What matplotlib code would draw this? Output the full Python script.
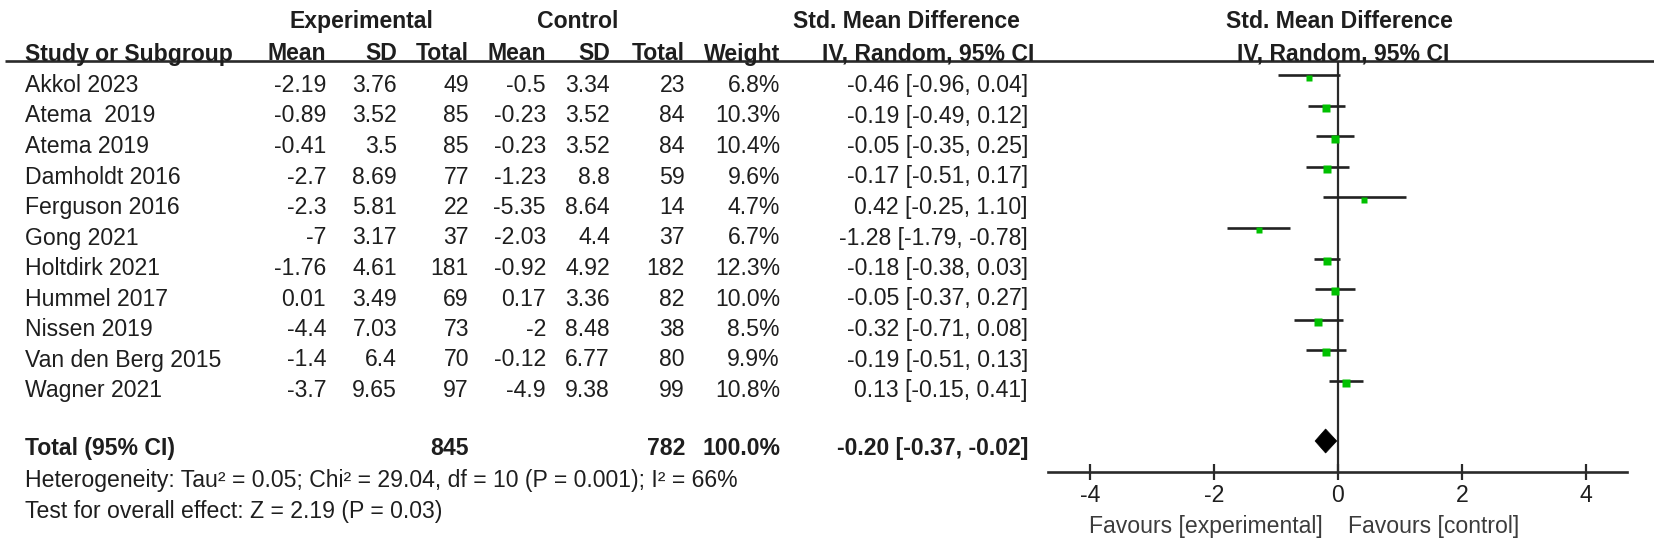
import matplotlib
matplotlib.use("Agg")
import matplotlib.pyplot as plt
from matplotlib.patches import Polygon

# ---------------- data ----------------
studies = ["Akkol 2023", "Atema  2019", "Atema 2019", "Damholdt 2016", "Ferguson 2016",
           "Gong 2021", "Holtdirk 2021", "Hummel 2017", "Nissen 2019",
           "Van den Berg 2015", "Wagner 2021"]
exp_mean = [-2.19, -0.89, -0.41, -2.7, -2.3, -7, -1.76, 0.01, -4.4, -1.4, -3.7]
exp_sd = [3.76, 3.52, 3.5, 8.69, 5.81, 3.17, 4.61, 3.49, 7.03, 6.4, 9.65]
exp_n = [49, 85, 85, 77, 22, 37, 181, 69, 73, 70, 97]
ctl_mean = [-0.5, -0.23, -0.23, -1.23, -5.35, -2.03, -0.92, 0.17, -2, -0.12, -4.9]
ctl_sd = [3.34, 3.52, 3.52, 8.8, 8.64, 4.4, 4.92, 3.36, 8.48, 6.77, 9.38]
ctl_n = [23, 84, 84, 59, 14, 37, 182, 82, 38, 80, 99]
weight = [6.8, 10.3, 10.4, 9.6, 4.7, 6.7, 12.3, 10.0, 8.5, 9.9, 10.8]
smd = [-0.46, -0.19, -0.05, -0.17, 0.42, -1.28, -0.18, -0.05, -0.32, -0.19, 0.13]
ci_lo = [-0.96, -0.49, -0.35, -0.51, -0.25, -1.79, -0.38, -0.37, -0.71, -0.51, -0.15]
ci_hi = [0.04, 0.12, 0.25, 0.17, 1.10, -0.78, 0.03, 0.27, 0.08, 0.13, 0.41]
total_exp_n = 845
total_ctl_n = 782
total_weight = 100.0
total_smd = -0.20
total_lo = -0.37
total_hi = -0.02
heterogeneity = "Heterogeneity: Tau\u00b2 = 0.05; Chi\u00b2 = 29.04, df = 10 (P = 0.001); I\u00b2 = 66%"
overall = "Test for overall effect: Z = 2.19 (P = 0.03)"
xticks = [-4, -2, 0, 2, 4]
fav_left = "Favours [experimental]"
fav_right = "Favours [control]"

# ---------------- layout ----------------
W, H = 1654, 544
DPI = 100
FS = 16.6
TXT = "#1e1e1e"
plt.rcParams["font.family"] = ["Liberation Sans", "DejaVu Sans"]

fig = plt.figure(figsize=(W / DPI, H / DPI), dpi=DPI)
fig.patch.set_facecolor("white")

tx = fig.add_axes([0, 0, 1, 1])
tx.set_xlim(0, W)
tx.set_ylim(H, 0)
tx.axis("off")

ROW0 = 84.0
DY = 30.5
BASE = 8.0  # baseline offset from visual centre


def t(x, y, s, ha="left", bold=False, color=TXT):
    tx.text(x, y + BASE, s, ha=ha, va="baseline", fontsize=FS,
            fontweight="bold" if bold else "normal", color=color)


# header row 1
t(361, 20, "Experimental", ha="center", bold=True)
t(578, 20, "Control", ha="center", bold=True)
t(906, 20, "Std. Mean Difference", ha="center", bold=True)
t(1339, 20, "Std. Mean Difference", ha="center", bold=True)
# header row 2
h2 = 52.5
t(25, h2, "Study or Subgroup", bold=True)
col_r = [326, 397, 469, 546, 610, 685, 780]
for x, s in zip(col_r, ["Mean", "SD", "Total", "Mean", "SD", "Total", "Weight"]):
    t(x, h2, s, ha="right", bold=True)
t(928, h2, "IV, Random, 95% CI", ha="center", bold=True)
t(1343, h2, "IV, Random, 95% CI", ha="center", bold=True)

# header line
tx.plot([5, W], [60.5, 60.5], color="#2a2a2a", lw=1.9, solid_capstyle="butt")

CI_R = 1028
for i, name in enumerate(studies):
    y = ROW0 + DY * i
    t(25, y, name)
    vals = [f"{exp_mean[i]:g}", f"{exp_sd[i]:g}", f"{exp_n[i]}",
            f"{ctl_mean[i]:g}", f"{ctl_sd[i]:g}", f"{ctl_n[i]}", f"{weight[i]:.1f}%"]
    for x, s in zip(col_r, vals):
        t(x, y, s, ha="right")
    t(CI_R, y, f"{smd[i]:.2f} [{ci_lo[i]:.2f}, {ci_hi[i]:.2f}]", ha="right")

yt = 447
t(25, yt, "Total (95% CI)", bold=True)
t(col_r[2], yt, f"{total_exp_n}", ha="right", bold=True)
t(col_r[5], yt, f"{total_ctl_n}", ha="right", bold=True)
t(col_r[6], yt, f"{total_weight:.1f}%", ha="right", bold=True)
t(CI_R, yt, f"{total_smd:.2f} [{total_lo:.2f}, {total_hi:.2f}]", ha="right", bold=True)
t(25, 479, heterogeneity)
t(25, 510, overall)

# ---------------- forest plot ----------------
X0, X1 = 1048, 1627
Y_TOP, Y_AX = 60.5, 472
ZERO = 1338
UNIT = 62.0
FROW0 = 75.5
xmin = (X0 - ZERO) / UNIT
xmax = (X1 - ZERO) / UNIT
ymin_row = (Y_TOP - FROW0) / DY
ymax_row = (Y_AX - FROW0) / DY

fx = fig.add_axes([X0 / W, 1 - Y_AX / H, (X1 - X0) / W, (Y_AX - Y_TOP) / H])
fx.set_xlim(xmin, xmax)
fx.set_ylim(ymax_row, ymin_row)
fx.patch.set_alpha(0)
for s in ["top", "left", "right"]:
    fx.spines[s].set_visible(False)
fx.spines["bottom"].set_color("#2a2a2a")
fx.spines["bottom"].set_linewidth(1.9)
fx.set_yticks([])
fx.set_xticks(xticks)
fx.set_xticklabels([f"{v:g}" for v in xticks])
fx.tick_params(axis="x", direction="inout", length=11, width=1.6, color="#2a2a2a",
               labelsize=FS, labelcolor=TXT, pad=3)

fx.axvline(0, color="#2a2a2a", lw=1.6, zorder=1)

for i in range(len(studies)):
    fx.plot([ci_lo[i], ci_hi[i]], [i, i], color="#222222", lw=1.9, zorder=2,
            solid_capstyle="butt")
    side_px = 2.45 * weight[i] ** 0.5
    fx.plot(smd[i], i + 0.07, marker="s", ms=side_px * 0.72, color="#00c000",
            mec="none", zorder=3)

yd = (441 - FROW0) / DY
hh = 12.0 / DY
diamond = Polygon([(total_lo, yd), (total_smd, yd - hh), (total_hi, yd), (total_smd, yd + hh)],
                  closed=True, facecolor="black", edgecolor="black", lw=0.5, zorder=3)
fx.add_patch(diamond)

t(1323, 525, fav_left, ha="right", color="#3c3c3c")
t(1348, 525, fav_right, ha="left", color="#3c3c3c")

fig.savefig("out.png", dpi=DPI, facecolor="white")
